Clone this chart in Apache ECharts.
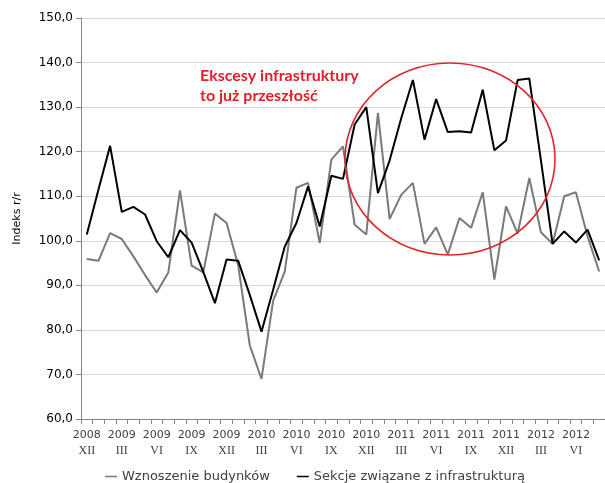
<!DOCTYPE html>
<html>
<head>
<meta charset="utf-8">
<script src="https://cdn.jsdelivr.net/npm/echarts@6/dist/echarts.min.js"></script>
<style>
  html, body { margin: 0; padding: 0; background: #fff; }
  #chart { width: 605px; height: 483px; }
</style>
</head>
<body>
<div id="chart"></div>
<script>
// Monthly periods, December 2008 to August 2012
const years = [
  '2008',
  '2009','2009','2009','2009','2009','2009','2009','2009','2009','2009','2009','2009',
  '2010','2010','2010','2010','2010','2010','2010','2010','2010','2010','2010','2010',
  '2011','2011','2011','2011','2011','2011','2011','2011','2011','2011','2011','2011',
  '2012','2012','2012','2012','2012','2012','2012','2012'
];
const months = [
  'XII',
  'I','II','III','IV','V','VI','VII','VIII','IX','X','XI','XII',
  'I','II','III','IV','V','VI','VII','VIII','IX','X','XI','XII',
  'I','II','III','IV','V','VI','VII','VIII','IX','X','XI','XII',
  'I','II','III','IV','V','VI','VII','VIII'
];

// Index r/r – construction of buildings
const wznoszenieBudynkow = [
  95.9, 95.5, 101.7, 100.4, 96.5, 92.3, 88.4, 92.9, 111.3, 94.4,
  92.9, 106.1, 104.0, 94.5, 76.5, 69.0, 86.5, 93.1, 111.9, 113.0,
  99.5, 118.2, 121.2, 103.6, 101.4, 128.7, 104.9, 110.3, 113.0, 99.3,
  103.0, 96.9, 105.1, 102.9, 110.9, 91.3, 107.7, 101.6, 114.1, 101.9,
  99.3, 110.0, 110.9, 101.0, 93.1
];

// Index r/r – infrastructure-related sections
const sekcjeInfrastruktura = [
  101.4, 111.5, 121.3, 106.5, 107.6, 105.9, 99.9, 96.3, 102.4, 99.6,
  93.0, 86.0, 95.8, 95.5, 87.8, 79.6, 89.0, 98.7, 104.0, 112.2,
  103.2, 114.6, 113.9, 126.1, 130.0, 110.7, 118.0, 127.5, 136.1, 122.7,
  131.8, 124.4, 124.6, 124.3, 133.9, 120.3, 122.5, 136.1, 136.4, 118.0,
  99.3, 102.1, 99.6, 102.5, 95.6
];

const yMin = 60, yMax = 150, yStep = 10;
const seriesNames = ['Wznoszenie budynków', 'Sekcje związane z infrastrukturą'];
const noteLines = ['Ekscesy infrastruktury', 'to już przeszłość'];

const categories = years.map((y, i) => y + '|' + months[i]);

const chart = echarts.init(document.getElementById('chart'), null, { renderer: 'canvas' });

chart.setOption({
  animation: false,
  backgroundColor: '#ffffff',
  grid: { left: 81, right: 0, top: 18, bottom: 64, containLabel: false },
  legend: {
    top: 465,
    left: 100,
    itemWidth: 12,
    itemHeight: 1.5,
    itemGap: 27,
    icon: 'rect',
    textStyle: { fontFamily: 'DejaVu Sans', fontSize: 13, color: '#404040' },
    data: seriesNames
  },
  xAxis: {
    type: 'category',
    data: categories,
    boundaryGap: true,
    axisLine: { lineStyle: { color: '#868686', width: 1 } },
    axisTick: { show: true, interval: 0, length: 5, alignWithLabel: false, lineStyle: { color: '#868686' } },
    axisLabel: {
      interval: 2,
      margin: 8,
      formatter: v => {
        const p = v.split('|');
        return '{y|' + p[0] + '}\n{m|' + p[1] + '}';
      },
      rich: {
        y: { fontFamily: 'DejaVu Sans', fontSize: 11, color: '#404040', lineHeight: 16 },
        m: { fontFamily: 'Liberation Serif', fontSize: 12, color: '#404040', lineHeight: 16 }
      }
    },
    splitLine: { show: false }
  },
  yAxis: {
    type: 'value',
    min: yMin,
    max: yMax,
    interval: yStep,
    name: 'Indeks r/r',
    nameLocation: 'middle',
    nameGap: 58,
    nameRotate: 90,
    nameTextStyle: { fontFamily: 'DejaVu Sans', fontSize: 11, color: '#000' },
    axisLine: { show: true, lineStyle: { color: '#868686', width: 1 } },
    axisTick: { show: true, length: 5, lineStyle: { color: '#868686' } },
    axisLabel: {
      margin: 8,
      fontFamily: 'DejaVu Sans',
      fontSize: 12,
      color: '#000',
      formatter: v => v.toFixed(1).replace('.', ',')
    },
    splitLine: { lineStyle: { color: '#d9d9d9', width: 1 } }
  },
  series: [
    {
      name: seriesNames[0],
      type: 'line',
      data: wznoszenieBudynkow,
      symbol: 'none',
      lineStyle: { color: '#7a7a7a', width: 2 },
      itemStyle: { color: '#7a7a7a' },
      z: 2
    },
    {
      name: seriesNames[1],
      type: 'line',
      data: sekcjeInfrastruktura,
      symbol: 'none',
      lineStyle: { color: '#000000', width: 2 },
      itemStyle: { color: '#000000' },
      z: 3
    }
  ],
  graphic: [
    {
      type: 'ellipse',
      shape: { cx: 450, cy: 159, rx: 105, ry: 96 },
      style: { fill: 'none', stroke: '#e0262b', lineWidth: 1.6 },
      z: 10
    },
    {
      type: 'text',
      left: 200,
      top: 66,
      style: {
        text: noteLines.join('\n'),
        font: 'bold 16px Lato',
        fill: '#e31e24',
        lineHeight: 20
      },
      z: 10
    }
  ]
});
</script>
</body>
</html>
